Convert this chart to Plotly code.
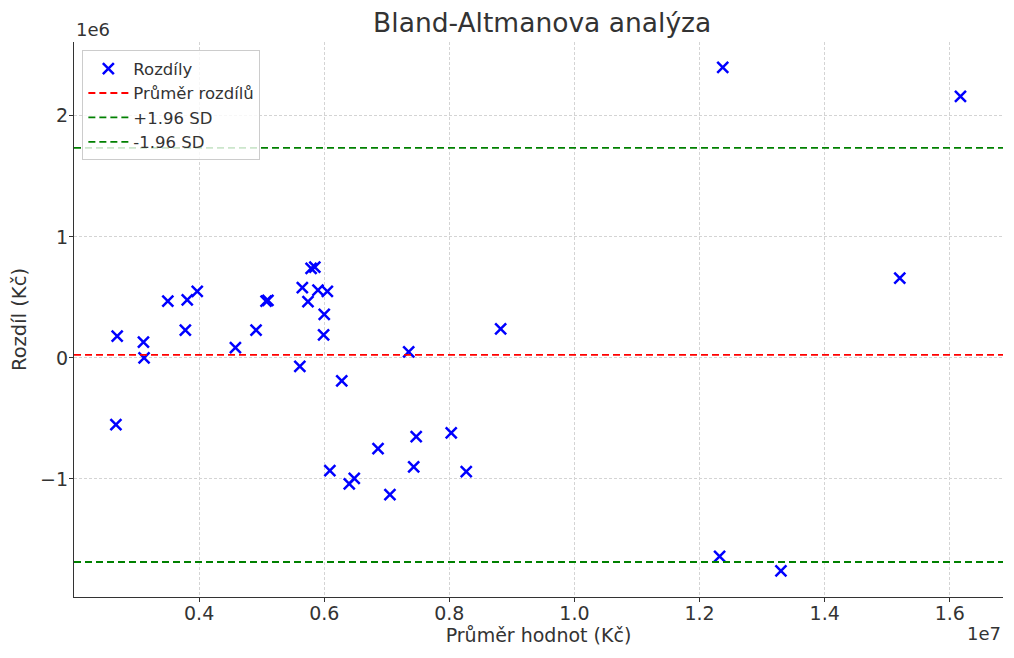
import numpy as np
import plotly.graph_objects as go

# Data (values in Kč)
prumer = [2.69e6, 2.67e6, 3.11e6, 3.12e6, 3.50e6, 3.78e6, 3.81e6, 3.97e6,
          4.58e6, 4.91e6, 5.07e6, 5.10e6, 5.61e6, 5.65e6, 5.74e6, 5.79e6,
          5.85e6, 5.90e6, 6.05e6, 6.00e6, 5.99e6, 6.28e6, 6.09e6, 6.40e6,
          6.48e6, 6.86e6, 7.05e6, 7.35e6, 7.43e6, 7.47e6, 8.03e6, 8.27e6,
          8.82e6, 12.32e6, 12.37e6, 13.30e6, 15.20e6, 16.17e6]
rozdil = [0.18e6, -0.55e6, 0.13e6, 0.0, 0.47e6, 0.23e6, 0.48e6, 0.55e6,
          0.085e6, 0.23e6, 0.47e6, 0.475e6, -0.07e6, 0.58e6, 0.465e6, 0.74e6,
          0.75e6, 0.56e6, 0.55e6, 0.36e6, 0.19e6, -0.19e6, -0.93e6, -1.04e6,
          -0.995e6, -0.75e6, -1.13e6, 0.05e6, -0.90e6, -0.65e6, -0.62e6, -0.94e6,
          0.24e6, -1.64e6, 2.40e6, -1.76e6, 0.66e6, 2.16e6]

prumer_rozdilu = 0.025e6
horni_mez = 1.736e6
dolni_mez = -1.686e6

x_range = [2.0e6, 16.85e6]
y_range = [-1.975e6, 2.61e6]

x_ticks = [4e6, 6e6, 8e6, 10e6, 12e6, 14e6, 16e6]
x_ticktext = ['0.4', '0.6', '0.8', '1.0', '1.2', '1.4', '1.6']
y_ticks = [-1e6, 0, 1e6, 2e6]
y_ticktext = ['\u22121', '0', '1', '2']

text_col = '#333333'
font = 'DejaVu Sans'

fig = go.Figure()

fig.add_trace(go.Scatter(
    x=prumer, y=rozdil, mode='markers', name='Rozdíly',
    marker=dict(symbol='x-thin', size=11, color='blue',
                line=dict(color='blue', width=2.5))
))

# vodorovné čáry přes celou osu
for val, name, col in [(prumer_rozdilu, 'Průměr rozdílů', 'red'),
                       (horni_mez, '+1.96 SD', 'green'),
                       (dolni_mez, '-1.96 SD', 'green')]:
    fig.add_trace(go.Scatter(
        x=x_range, y=[val, val], mode='lines', name=name,
        line=dict(color=col, width=1.8, dash='7px,4px')
    ))

axis_common = dict(
    showline=True, linecolor=text_col, linewidth=1.3, mirror=False,
    ticks='outside', ticklen=4, tickcolor=text_col, automargin=False,
    showgrid=True, gridcolor='#d4d4d4', griddash='3px,2px', gridwidth=1,
    zeroline=False, tickfont=dict(size=19, color=text_col, family=font),
)

# stránka má okraj 8 px, proto je figura o 8 px menší
fig.update_layout(
    width=1006, height=650,
    paper_bgcolor='white', plot_bgcolor='white',
    font=dict(family=font, color=text_col),
    margin=dict(l=66, r=11, t=34, b=61, autoexpand=False),
    title=dict(text='Bland-Altmanova analýza', x=0.531, xanchor='center',
               y=0.978, yanchor='middle', font=dict(size=26.5, color=text_col)),
    xaxis=dict(range=x_range, tickvals=x_ticks, ticktext=x_ticktext,
               ticklabelstandoff=-5,
               title=dict(text='Průměr hodnot (Kč)', font=dict(size=19), standoff=2),
               **axis_common),
    yaxis=dict(range=y_range, tickvals=y_ticks, ticktext=y_ticktext,
               ticklabelstandoff=-3,
               title=dict(text='Rozdíl (Kč)', font=dict(size=19.5), standoff=8),
               **axis_common),
    legend=dict(x=0.009, y=0.985, xanchor='left', yanchor='top',
                bgcolor='rgba(255,255,255,0.8)', bordercolor='#cccccc', borderwidth=1,
                font=dict(size=16.5, color=text_col), tracegroupgap=0, itemwidth=40),
    showlegend=True,
)

fig.add_annotation(text='1e6', xref='paper', yref='paper', x=0, y=1,
                   xanchor='left', yanchor='bottom', yshift=0, showarrow=False,
                   font=dict(size=18, color=text_col))
fig.add_annotation(text='1e7', xref='paper', yref='paper', x=1, y=0,
                   xanchor='right', yanchor='top', yshift=-24, showarrow=False,
                   font=dict(size=18, color=text_col))

fig.write_html('out.html')
